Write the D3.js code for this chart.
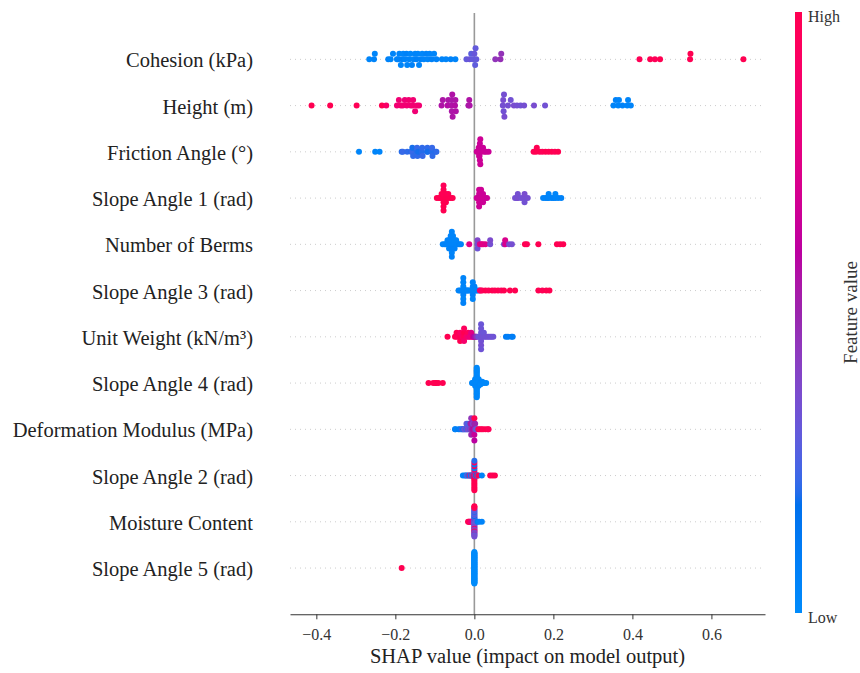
<!DOCTYPE html>
<html>
<head>
<meta charset="utf-8">
<script src="https://cdn.jsdelivr.net/npm/d3@7"></script>
<style>
  body { margin: 0; background: #fff; }
  svg { display: block; }
</style>
</head>
<body>
<svg id="chart" width="860" height="673"></svg>
<script>
// Features, top row first
const featureNames = [
  "Cohesion (kPa)", "Height (m)", "Friction Angle (°)", "Slope Angle 1 (rad)",
  "Number of Berms", "Slope Angle 3 (rad)", "Unit Weight (kN/m³)", "Slope Angle 4 (rad)",
  "Deformation Modulus (MPa)", "Slope Angle 2 (rad)", "Moisture Content", "Slope Angle 5 (rad)"
];

// Each sample: [SHAP value, normalised feature value (0 = low, 1 = high)]
const cohesion = [
  [-0.266,0.04],[-0.254,0.05],[-0.252,0.03],[-0.218,0.06],[-0.212,0.04],[-0.206,0.05],
  [-0.196,0.03],[-0.193,0.06],[-0.190,0.05],[-0.186,0.04],[-0.183,0.07],[-0.180,0.03],
  [-0.176,0.05],[-0.172,0.06],[-0.170,0.04],[-0.165,0.05],[-0.162,0.03],[-0.158,0.06],
  [-0.154,0.04],[-0.150,0.05],[-0.147,0.07],[-0.143,0.04],[-0.140,0.05],[-0.136,0.06],
  [-0.132,0.03],[-0.128,0.05],[-0.122,0.06],[-0.118,0.04],[-0.113,0.05],[-0.108,0.07],
  [-0.102,0.04],[-0.096,0.06],[-0.082,0.05],[-0.072,0.04],[-0.060,0.06],[-0.048,0.05],
  [-0.020,0.30],[-0.012,0.32],[-0.008,0.28],[-0.004,0.30],[0.000,0.31],[0.002,0.29],
  [0.003,0.30],[0.005,0.30],[0.053,0.45],[0.066,0.47],[0.068,0.46],
  [0.418,0.98],[0.445,1],[0.457,0.97],[0.470,1],[0.546,0.99],[0.547,1],[0.681,1]
];
const height = [
  [-0.412,1],[-0.365,1],[-0.298,0.98],[-0.234,1],
  [-0.223,0.9],[-0.196,0.85],[-0.191,0.84],[-0.186,0.86],[-0.181,0.85],[-0.176,0.83],
  [-0.171,0.85],[-0.166,0.86],[-0.161,0.84],[-0.156,0.85],[-0.155,0.85],[-0.150,0.84],
  [-0.145,0.86],[-0.140,0.85],
  [-0.083,0.56],[-0.080,0.55],[-0.068,0.57],[-0.066,0.55],[-0.058,0.56],[-0.057,0.54],
  [-0.057,0.55],[-0.056,0.56],[-0.055,0.55],[-0.049,0.57],[-0.048,0.55],[-0.047,0.56],
  [-0.015,0.54],[-0.013,0.56],[-0.012,0.55],
  [0.072,0.35],[0.073,0.36],[0.074,0.34],[0.075,0.35],[0.076,0.36],[0.085,0.35],
  [0.092,0.34],[0.100,0.36],[0.108,0.35],[0.117,0.34],[0.126,0.35],[0.151,0.36],[0.179,0.34],
  [0.352,0.05],[0.358,0.06],[0.364,0.04],[0.366,0.05],[0.375,0.06],[0.387,0.05],
  [0.389,0.04],[0.396,0.05]
];
const frictionAngle = [
  [-0.292,0.04],[-0.251,0.05],[-0.240,0.04],
  [-0.184,0.20],[-0.181,0.22],[-0.170,0.21],[-0.160,0.20],[-0.158,0.22],[-0.157,0.19],
  [-0.155,0.21],[-0.146,0.20],[-0.145,0.22],[-0.144,0.21],[-0.142,0.19],[-0.133,0.20],
  [-0.132,0.21],[-0.131,0.22],[-0.120,0.20],[-0.119,0.21],[-0.118,0.19],[-0.108,0.20],
  [-0.107,0.22],[-0.106,0.21],[-0.098,0.20],[-0.096,0.21],
  [0.006,0.66],[0.009,0.67],[0.011,0.66],[0.012,0.65],[0.013,0.67],[0.013,0.66],
  [0.013,0.66],[0.014,0.65],[0.014,0.66],[0.015,0.67],[0.015,0.66],[0.018,0.66],
  [0.022,0.65],[0.025,0.67],[0.030,0.66],[0.036,0.66],
  [0.150,0.98],[0.156,1],[0.158,0.99],[0.165,1],[0.172,0.97],[0.180,1],[0.188,0.99],
  [0.196,1],[0.204,0.98],[0.212,1]
];
const slopeAngle1 = [
  [-0.095,1],[-0.090,0.98],[-0.086,1],[-0.083,0.99],[-0.083,1],
  [-0.078,1],[-0.078,0.98],[-0.078,1],[-0.078,0.99],[-0.078,1],[-0.078,0.97],[-0.078,1],
  [-0.072,1],[-0.072,0.99],[-0.072,1],[-0.066,1],[-0.066,0.98],[-0.060,1],[-0.055,1],
  [0.006,0.67],[0.008,0.66],[0.012,0.67],[0.012,0.66],[0.012,0.68],[0.012,0.67],[0.012,0.66],
  [0.017,0.67],[0.017,0.66],[0.017,0.66],[0.017,0.67],[0.022,0.67],[0.022,0.66],[0.022,0.66],
  [0.027,0.67],[0.032,0.66],
  [0.103,0.35],[0.108,0.34],[0.110,0.36],[0.110,0.35],[0.118,0.34],[0.125,0.35],
  [0.127,0.36],[0.127,0.34],[0.135,0.35],
  [0.174,0.05],[0.180,0.04],[0.185,0.06],[0.188,0.05],[0.188,0.04],[0.195,0.05],
  [0.200,0.06],[0.205,0.05],[0.205,0.04],[0.212,0.05],[0.220,0.06]
];
const numberOfBerms = [
  [-0.080,0.05],[-0.075,0.04],[-0.072,0.06],[-0.068,0.05],[-0.068,0.04],
  [-0.064,0.05],[-0.064,0.06],[-0.064,0.04],[-0.060,0.05],[-0.060,0.04],[-0.060,0.06],
  [-0.060,0.05],[-0.057,0.05],[-0.057,0.04],[-0.057,0.06],[-0.057,0.05],[-0.057,0.04],
  [-0.057,0.05],[-0.057,0.06],[-0.054,0.05],[-0.054,0.04],[-0.054,0.06],[-0.054,0.05],
  [-0.050,0.05],[-0.050,0.04],[-0.050,0.06],[-0.046,0.05],[-0.046,0.04],[-0.042,0.05],
  [-0.038,0.06],[-0.034,0.05],
  [-0.013,0.75],[0.008,0.35],[0.008,0.38],[0.008,0.33],
  [0.014,0.75],[0.018,0.72],[0.022,0.76],[0.028,0.74],[0.040,0.35],[0.040,0.37],
  [0.075,0.34],[0.078,0.70],[0.078,0.72],[0.088,0.36],[0.095,0.35],
  [0.128,1],[0.133,0.98],[0.162,1],[0.209,1],[0.217,0.99],[0.225,1]
];
const slopeAngle3 = [
  [-0.040,0.05],[-0.036,0.04],[-0.032,0.06],[-0.030,0.05],
  [-0.028,0.05],[-0.028,0.04],[-0.028,0.06],[-0.028,0.05],[-0.028,0.04],[-0.028,0.05],[-0.028,0.06],
  [-0.025,0.05],[-0.022,0.04],[-0.020,0.06],[-0.018,0.05],[-0.015,0.04],[-0.012,0.05],
  [-0.008,0.06],[-0.006,0.05],
  [-0.004,0.05],[-0.004,0.04],[-0.004,0.06],[-0.004,0.05],[-0.004,0.04],
  [-0.002,0.05],[0.000,0.06],[0.003,0.05],[0.006,0.04],[0.010,0.05],
  [0.014,0.90],[0.016,0.92],[0.020,0.95],[0.028,1],[0.036,0.97],[0.045,1],[0.052,0.98],
  [0.060,1],[0.068,0.95],[0.075,1],[0.090,1],[0.103,1],[0.162,1],[0.172,0.98],
  [0.182,1],[0.190,1]
];
const unitWeight = [
  [-0.068,1],
  [-0.049,1],[-0.045,0.98],[-0.045,1],[-0.040,0.95],[-0.036,1],[-0.036,0.92],[-0.036,1],
  [-0.030,0.90],[-0.026,0.97],[-0.026,1],[-0.026,0.88],[-0.026,0.95],[-0.020,0.90],
  [-0.016,0.85],[-0.016,0.95],[-0.012,0.80],[-0.008,0.85],[-0.008,0.75],[-0.004,0.70],
  [-0.002,0.65],
  [0.000,0.60],[0.002,0.55],[0.004,0.50],[0.006,0.45],
  [0.010,0.33],[0.014,0.34],[0.017,0.33],[0.017,0.32],[0.017,0.34],[0.017,0.33],[0.017,0.35],
  [0.017,0.32],[0.017,0.33],[0.020,0.34],[0.024,0.33],[0.024,0.32],[0.028,0.34],[0.032,0.33],
  [0.036,0.35],[0.040,0.33],[0.044,0.34],[0.048,0.33],
  [0.080,0.10],[0.085,0.08],[0.094,0.10],[0.097,0.09]
];
const slopeAngle4 = [
  [-0.116,1],[-0.104,1],[-0.098,0.98],[-0.097,1],[-0.091,1],[-0.080,1],
  [-0.006,0.02],[-0.004,0.03],
  [0.002,0.02],[0.002,0.03],[0.002,0.02],[0.002,0.02],[0.002,0.03],[0.002,0.02],
  [0.006,0.02],[0.006,0.03],[0.006,0.02],[0.006,0.02],[0.006,0.03],[0.006,0.02],
  [0.006,0.02],[0.006,0.03],[0.006,0.02],[0.006,0.02],[0.006,0.03],[0.006,0.02],
  [0.006,0.02],[0.006,0.03],[0.006,0.02],[0.006,0.02],[0.006,0.03],[0.006,0.02],
  [0.006,0.02],[0.006,0.03],[0.006,0.02],[0.006,0.02],[0.006,0.03],[0.006,0.02],
  [0.011,0.02],[0.011,0.03],[0.011,0.02],[0.011,0.02],[0.011,0.03],[0.011,0.02],
  [0.016,0.02],[0.016,0.03],[0.016,0.02],[0.020,0.02],[0.020,0.03],[0.025,0.02],[0.030,0.02]
];
const deformationModulus = [
  [-0.049,0.08],[-0.048,0.06],[-0.040,0.10],[-0.036,0.08],
  [-0.032,0.20],[-0.030,0.25],[-0.028,0.15],[-0.026,0.30],[-0.024,0.30],[-0.022,0.35],
  [-0.020,0.20],[-0.020,0.30],[-0.018,0.30],[-0.016,0.40],[-0.016,0.25],[-0.014,0.35],
  [-0.012,0.25],[-0.010,0.45],[-0.010,0.50],[-0.008,0.40],[-0.008,0.55],[-0.008,0.50],
  [-0.008,0.45],[-0.006,0.50],[-0.004,0.55],[-0.004,0.40],[-0.002,0.60],
  [0.000,0.55],[0.000,0.50],[0.000,0.65],[0.000,1.00],[0.000,0.60],
  [0.002,0.45],[0.002,0.50],[0.004,0.35],[0.006,0.30],
  [0.010,1],[0.014,0.95],[0.018,1],[0.022,0.98],[0.028,1],[0.034,1],[0.036,0.97]
];
const slopeAngle2 = [
  [-0.029,0.05],[-0.024,0.10],[-0.021,0.05],[-0.018,0.35],[-0.015,0.10],[-0.012,0.90],
  [-0.010,0.20],[-0.008,0.10],[-0.006,0.85],[-0.005,0.30],[-0.004,0.05],[-0.003,0.95],
  [-0.002,0.30],[-0.001,0.10],
  [0.000,1],[0.000,0.95],[0.000,1],[0.000,0.30],[0.000,1],[0.000,0.90],[0.000,1],
  [0.000,0.05],[0.000,1],[0.000,0.97],[0.000,1],[0.000,0.10],[0.000,1],[0.000,0.95],
  [0.000,1],[0.000,0.20],[0.000,1],
  [0.001,0.60],[0.002,0.90],[0.003,0.40],[0.004,0.15],[0.006,1],[0.008,0.05],[0.010,0.95],
  [0.019,0.05],[0.040,1],[0.046,0.98],[0.052,1]
];
const moistureContent = [
  [-0.016,1],[-0.014,0.95],[-0.012,1],[-0.010,0.90],[-0.008,0.85],[-0.006,0.80],
  [0.000,0.30],[0.000,0.35],[0.000,0.25],[0.000,0.40],[0.000,0.30],[0.000,0.20],
  [0.000,0.35],[0.000,0.45],[0.000,0.30],[0.000,0.25],[0.000,0.40],[0.000,0.15],
  [0.000,0.35],[0.000,0.30],[0.000,0.90],[0.000,0.25],[0.000,0.40],[0.000,0.30],
  [0.000,0.35],[0.000,0.20],[0.000,0.95],[0.000,0.30],[0.000,0.40],[0.000,0.25],
  [0.000,0.35],[0.000,0.30],[0.000,0.45],[0.000,1.00],[0.000,0.30],[0.000,0.95],
  [0.000,0.35],[0.000,1.00],
  [0.004,0.30],[0.008,0.10],[0.012,0.05],[0.019,0.05]
];
const slopeAngle5 = [
  [-0.184,1],
  [0,0],[0,0],[0,0],[0,0],[0,0],[0,0],[0,0],[0,0],[0,0],[0,0],
  [0,0],[0,0],[0,0],[0,0],[0,0],[0,0],[0,0],[0,0],[0,0],[0,0],
  [0,0],[0,0],[0,0],[0,0],[0,0],[0,0],[0,0],[0,0],[0,0],[0,0],
  [0,0],[0,0],[0,0],[0,0],[0,0],[0,0],[0,0],[0,0],[0,0],[0,0],
  [0,0],[0,0],[0,0],[0,0],[0,0],[0,0],[0,0],[0,0],[0,0],[0,0]
];

const rowsTopDown = [
  cohesion, height, frictionAngle, slopeAngle1, numberOfBerms, slopeAngle3,
  unitWeight, slopeAngle4, deformationModulus, slopeAngle2, moistureContent, slopeAngle5
];
const xTicks = [-0.4, -0.2, 0.0, 0.2, 0.4, 0.6];
const colorbarLabels = ["High", "Low"];

// Red-blue colour map: interpolated in LCH space (blue -> purple -> red)
function lch2rgb(l, c, h) {
  const a = c * Math.cos(h), b = c * Math.sin(h);
  const fy = (l + 16) / 116, fx = fy + a / 500, fz = fy - b / 200;
  const f = t => (t > 0.206893 ? t * t * t : (t - 16 / 116) / 7.787);
  const X = 0.95047 * f(fx), Y = f(fy), Z = 1.08883 * f(fz);
  const lin = [
     3.2406 * X - 1.5372 * Y - 0.4986 * Z,
    -0.9689 * X + 1.8758 * Y + 0.0415 * Z,
     0.0557 * X - 0.2040 * Y + 1.0570 * Z
  ];
  const g = v => {
    v = v > 0.0031308 ? 1.055 * Math.pow(v, 1 / 2.4) - 0.055 : 12.92 * v;
    return Math.round(255 * Math.max(0, Math.min(1, v)));
  };
  return d3.rgb(g(lin[0]), g(lin[1]), g(lin[2])).formatHex();
}
function redBlue(t) {
  t = Math.max(0, Math.min(1, t));
  const l = t <= 0.5 ? 54 - 28 * t : 40 + 28 * (t - 0.5);
  const c = 70 + 20 * t;
  const h = 4.6588 + t * (0.35470565 + 2 * Math.PI - 4.6588);
  return lch2rgb(l, c, h);
}

const svg = d3.select("#chart");
const font = "'Liberation Serif', 'Times New Roman', serif";

const allX = rowsTopDown.flat().map(d => d[0]);
const [xmin, xmax] = d3.extent(allX);
const pad = (xmax - xmin) * 0.05;
const x = d3.scaleLinear().domain([xmin - pad, xmax + pad]).range([290, 765]);

const nRows = featureNames.length;
// row index 0 is the bottom feature
const y = d3.scaleLinear().domain([-1, nRows]).range([614.3, 13.1]);

// Beeswarm offsets: bin along x and alternate stacking above / below
function swarmOffsets(points) {
  const xs = points.map(p => p[0]);
  const lo = d3.min(xs), hi = d3.max(xs);
  const nbins = 100;
  const q = xs.map(v => Math.round(nbins * (v - lo) / (hi - lo + 1e-8)));
  const order = d3.range(xs.length).sort((a, b) => q[a] - q[b] || a - b);
  const ys = new Array(xs.length).fill(0);
  let layer = 0, last = -1;
  for (const i of order) {
    if (q[i] !== last) layer = 0;
    ys[i] = Math.ceil(layer / 2) * ((layer % 2) * 2 - 1);
    layer++;
    last = q[i];
  }
  const m = d3.max(ys) + 1;
  return ys.map(v => v * 0.9 * 0.4 / m);
}

// dotted row guides
const gGrid = svg.append("g");
featureNames.forEach((name, k) => {
  const r = nRows - 1 - k;
  gGrid.append("line")
    .attr("x1", x.range()[0]).attr("x2", x.range()[1])
    .attr("y1", y(r)).attr("y2", y(r))
    .attr("stroke", "#cccccc").attr("stroke-width", 1)
    .attr("stroke-dasharray", "1,4");
});

// zero line
svg.append("line")
  .attr("x1", x(0)).attr("x2", x(0))
  .attr("y1", y(nRows)).attr("y2", y(-1))
  .attr("stroke", "#999999").attr("stroke-width", 1.6);

// points
const gPts = svg.append("g");
rowsTopDown.forEach((pts, k) => {
  const r = nRows - 1 - k;
  const off = swarmOffsets(pts);
  gPts.selectAll(null).data(pts).enter().append("circle")
    .attr("cx", d => x(d[0]))
    .attr("cy", (d, i) => y(r + off[i]))
    .attr("r", 3)
    .attr("fill", d => redBlue(d[1]));
});

// feature labels
svg.append("g").selectAll("text").data(featureNames).enter().append("text")
  .attr("x", 253)
  .attr("y", (d, k) => y(nRows - 1 - k) + 1)
  .attr("text-anchor", "end")
  .attr("dominant-baseline", "central")
  .attr("font-family", font).attr("font-size", 20.5).attr("fill", "#222")
  .text(d => d);

// x axis
const axis = d3.axisBottom(x).tickValues(xTicks).tickFormat(d3.format(".1f"))
  .tickSize(5).tickSizeOuter(0).tickPadding(9);
const gAx = svg.append("g").attr("transform", `translate(0,${y(-1)})`).call(axis);
gAx.select(".domain").attr("stroke", "#333").attr("stroke-width", 1.1);
gAx.selectAll(".tick line").attr("stroke", "#333");
gAx.selectAll(".tick text").attr("font-family", font).attr("font-size", 16).attr("fill", "#333");

svg.append("text")
  .attr("x", (x.range()[0] + x.range()[1]) / 2).attr("y", 663)
  .attr("text-anchor", "middle")
  .attr("font-family", font).attr("font-size", 20.5).attr("fill", "#222")
  .text("SHAP value (impact on model output)");

// colour bar
const defs = svg.append("defs");
const grad = defs.append("linearGradient").attr("id", "cbar")
  .attr("x1", 0).attr("y1", 1).attr("x2", 0).attr("y2", 0);
d3.range(0, 1.0001, 0.02).forEach(t => {
  grad.append("stop").attr("offset", t).attr("stop-color", redBlue(t));
});
const cbTop = 12, cbBottom = 613;
svg.append("rect")
  .attr("x", 795).attr("y", cbTop).attr("width", 7).attr("height", cbBottom - cbTop)
  .attr("fill", "url(#cbar)");
svg.append("text").attr("x", 808).attr("y", cbTop + 4).attr("dominant-baseline", "central")
  .attr("font-family", font).attr("font-size", 16).attr("fill", "#333").text(colorbarLabels[0]);
svg.append("text").attr("x", 808).attr("y", cbBottom + 4).attr("dominant-baseline", "central")
  .attr("font-family", font).attr("font-size", 16).attr("fill", "#333").text(colorbarLabels[1]);
svg.append("text")
  .attr("transform", `translate(850,${(cbTop + cbBottom) / 2}) rotate(-90)`)
  .attr("text-anchor", "middle").attr("dominant-baseline", "central")
  .attr("font-family", font).attr("font-size", 19).attr("fill", "#333")
  .text("Feature value");
</script>
</body>
</html>
